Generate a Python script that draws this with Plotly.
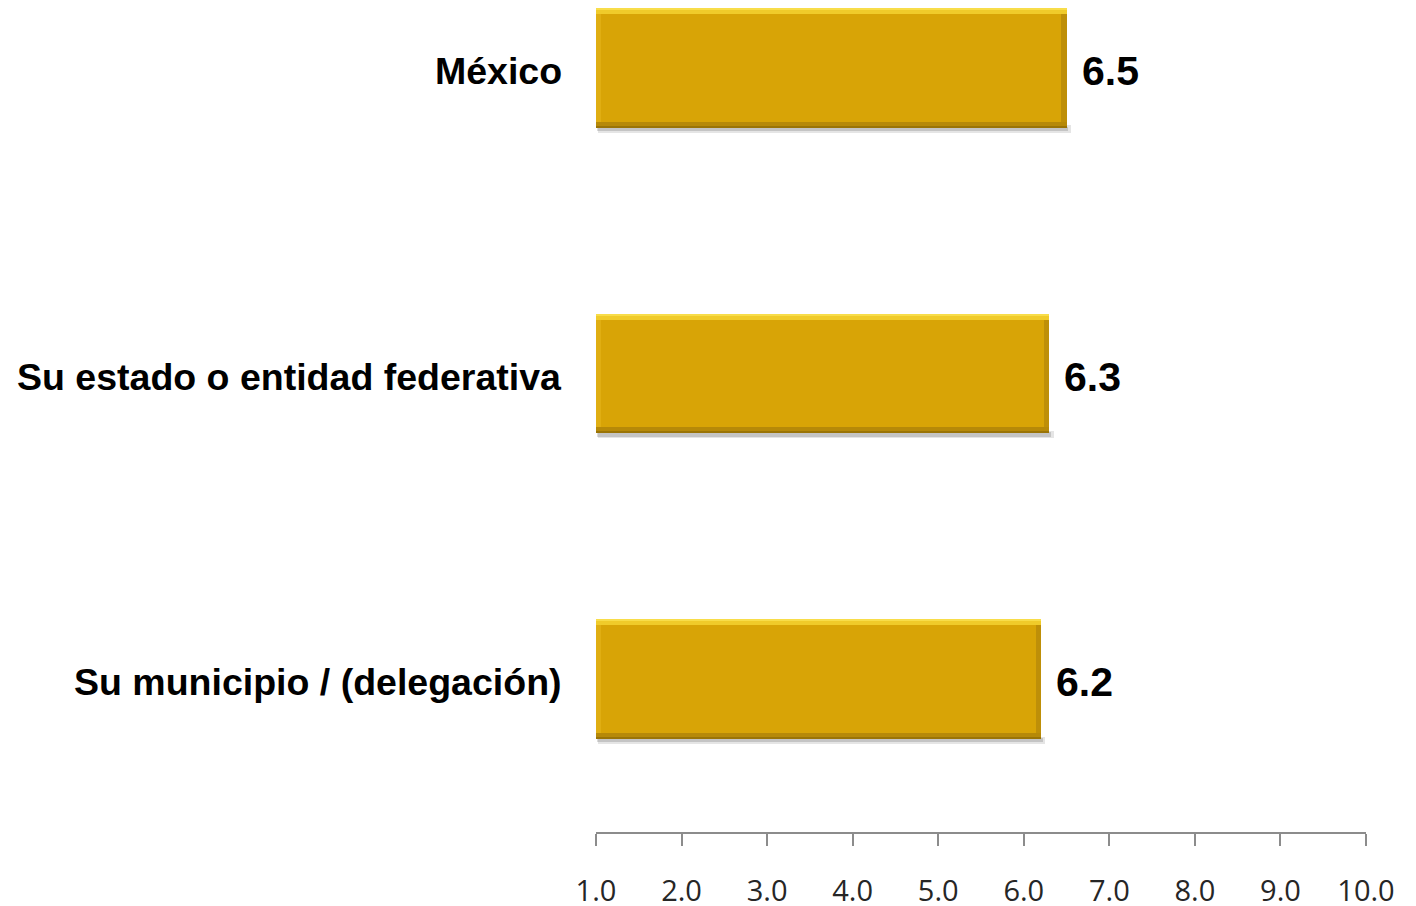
import plotly.graph_objects as go

categories = ["México", "Su estado o entidad federativa", "Su municipio / (delegación)"]
values = [6.5, 6.3, 6.2]
x_ticks = [1, 2, 3, 4, 5, 6, 7, 8, 9, 10]
x_tick_labels = ["1.0", "2.0", "3.0", "4.0", "5.0", "6.0", "7.0", "8.0", "9.0", "10.0"]

pos = list(range(len(categories)))
base_val = 1.0
bar_w = 0.392
half = bar_w / 2
edge = 0.02

fig = go.Figure()

# drop shadow (soft)
fig.add_trace(go.Bar(
    y=pos, x=[v - base_val + 0.03 for v in values], base=base_val + 0.02, orientation="h",
    width=0.024, offset=half - 0.008, marker=dict(color="rgba(0,0,0,0.10)", line=dict(width=0)),
    hoverinfo="skip", showlegend=False))
fig.add_trace(go.Bar(
    y=pos, x=[v - base_val + 0.01 for v in values], base=base_val + 0.01, orientation="h",
    width=0.014, offset=half - 0.004, marker=dict(color="rgba(0,0,0,0.14)", line=dict(width=0)),
    hoverinfo="skip", showlegend=False))
# main bar
fig.add_trace(go.Bar(
    y=pos, x=[v - base_val for v in values], base=base_val, orientation="h",
    width=bar_w, offset=-half, marker=dict(color="#D8A406", line=dict(width=0)),
    showlegend=False))
# top highlight
fig.add_trace(go.Bar(
    y=pos, x=[v - base_val for v in values], base=base_val, orientation="h",
    width=edge, offset=-half, marker=dict(color="#F0CB2A", line=dict(width=0)),
    hoverinfo="skip", showlegend=False))
fig.add_trace(go.Bar(
    y=pos, x=[v - base_val for v in values], base=base_val, orientation="h",
    width=0.007, offset=-half, marker=dict(color="#F8DD4A", line=dict(width=0)),
    hoverinfo="skip", showlegend=False))
# bottom dark edge
fig.add_trace(go.Bar(
    y=pos, x=[v - base_val for v in values], base=base_val, orientation="h",
    width=edge, offset=half - edge, marker=dict(color="#B68908", line=dict(width=0)),
    hoverinfo="skip", showlegend=False))
fig.add_trace(go.Bar(
    y=pos, x=[v - base_val for v in values], base=base_val, orientation="h",
    width=0.007, offset=half - 0.007, marker=dict(color="#9A7406", line=dict(width=0)),
    hoverinfo="skip", showlegend=False))
# left light edge
fig.add_trace(go.Bar(
    y=pos, x=[0.06] * len(values), base=base_val, orientation="h",
    width=bar_w - 2 * edge, offset=-half + edge, marker=dict(color="#E0AE12", line=dict(width=0)),
    hoverinfo="skip", showlegend=False))
# right dark edge
fig.add_trace(go.Bar(
    y=pos, x=[0.06] * len(values), base=[v - 0.06 for v in values], orientation="h",
    width=bar_w - 2 * edge, offset=-half + edge, marker=dict(color="#BE8F08", line=dict(width=0)),
    hoverinfo="skip", showlegend=False))

label_font = dict(family="Liberation Sans, Arial, sans-serif", color="#000000", weight="bold")

for p, v in zip(pos, values):
    fig.add_annotation(
        x=v, y=p, text=f"{v:.1f}", showarrow=False, xanchor="left", yanchor="middle",
        xshift=13, yshift=-3, font=dict(size=41, **label_font))

for p, c in zip(pos, categories):
    fig.add_annotation(
        x=0, xref="paper", y=p, text=c, showarrow=False, xanchor="right", yanchor="middle",
        xshift=-32, yshift=-3, font=dict(size=37.5, **label_font))

fig.update_layout(
    width=1416, height=906,
    margin=dict(l=588, r=58, t=0, b=82),
    paper_bgcolor="white", plot_bgcolor="white",
    barmode="overlay", bargap=0,
    showlegend=False,
    xaxis=dict(
        range=[1, 10], tickvals=x_ticks, ticktext=x_tick_labels,
        showgrid=False, zeroline=False, showline=True, linecolor="#8C8C8C", linewidth=1.5,
        ticks="outside", ticklen=12, tickcolor="#8C8C8C", tickwidth=1.5,
        ticklabelstandoff=20,
        tickfont=dict(family="Open Sans, sans-serif", size=29, color="#262626")),
    yaxis=dict(
        range=[2.5, -0.196], tickvals=pos, showticklabels=False,
        showgrid=False, zeroline=False, showline=False, ticks=""),
)

fig.write_html("out.html")
